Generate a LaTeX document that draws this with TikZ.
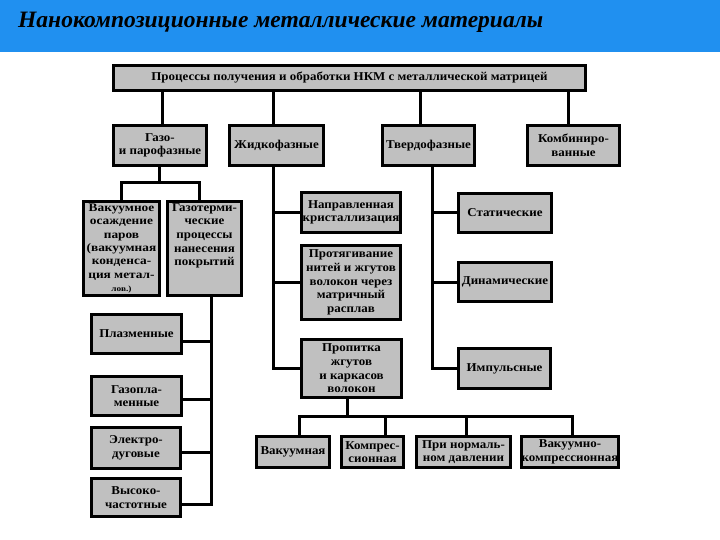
\documentclass[tikz,border=0pt]{standalone}
\usepackage{fontspec}
\setmainfont{Liberation Serif}
\newfontfamily\boxfont[FakeStretch=1.08]{Liberation Serif}
\newfontfamily\wideboxfont[FakeStretch=1.16]{Liberation Serif}
\definecolor{titleblue}{RGB}{32,144,240}
\definecolor{boxgray}{RGB}{192,192,192}
\begin{document}
\begin{tikzpicture}[x=1pt,y=-1pt,
  box/.style={draw=black, line width=3pt, fill=boxgray, align=center, inner sep=0pt,
    font=\boxfont\bfseries\fontsize{12}{13.6}\selectfont},
  conn/.style={line width=3pt, line cap=rect}]
\useasboundingbox (0,0) rectangle (720,540);
\fill[titleblue] (0,0) rectangle (720,52);
\node[anchor=base west, inner sep=0pt, font=\bfseries\itshape\fontsize{23.5}{28}\selectfont] (title) at (18,28) {Нанокомпозиционные металлические материалы};

% boxes
\node[box, minimum width=472, minimum height=25, font=\boxfont\bfseries\fontsize{12}{13}\selectfont] (top) at (349.5,78) {Процессы получения и обработки НКМ с металлической матрицей};
\node[box, minimum width=93, minimum height=40] (gaz) at (160,145.5) {Газо-\\и парофазные};
\node[box, minimum width=94, minimum height=40] (zhid) at (276.5,145.5) {Жидкофазные};
\node[box, minimum width=92, minimum height=40] (tverd) at (428.5,145.5) {Твердофазные};
\node[box, minimum width=92, minimum height=40] (komb) at (573.5,145.5) {Комбиниро-\\ванные};

\node[box, minimum width=76, minimum height=94, font=\wideboxfont\bfseries\fontsize{11.5}{13.4}\selectfont] (vakos) at (121.5,248.5) {Вакуумное\\осаждение\\паров\\(вакуумная\\конденса-\\ция метал-\\{\fontsize{8}{8}\selectfont лов.)}};
\node[box, minimum width=74, minimum height=94, text depth=28pt] (gazoterm) at (204.5,248.5) {Газотерми-\\ческие\\процессы\\нанесения\\покрытий};

\node[box, minimum width=90, minimum height=39] (plazm) at (136.5,334) {Плазменные};
\node[box, minimum width=90, minimum height=39] (gazopl) at (136.5,396) {Газопла-\\менные};
\node[box, minimum width=89, minimum height=41] (elektro) at (136,448) {Электро-\\дуговые};
\node[box, minimum width=89, minimum height=38] (vysoko) at (136,497.5) {Высоко-\\частотные};

\node[box, minimum width=99, minimum height=40] (naprav) at (351,212.5) {Направленная\\кристаллизация};
\node[box, minimum width=99, minimum height=74] (protyag) at (351,282.5) {Протягивание\\нитей и жгутов\\волокон через\\матричный\\расплав};
\node[box, minimum width=100, minimum height=58] (propitka) at (351.5,368.5) {Пропитка\\жгутов\\и каркасов\\волокон};

\node[box, minimum width=93, minimum height=39] (static) at (505,213) {Статические};
\node[box, minimum width=93, minimum height=39] (dinam) at (505,282) {Динамические};
\node[box, minimum width=92, minimum height=40] (impuls) at (504.5,368.5) {Импульсные};

\node[box, minimum width=73, minimum height=31] (vakuumnaya) at (293,452) {Вакуумная};
\node[box, minimum width=62, minimum height=31] (kompr) at (372.5,452) {Компрес-\\сионная};
\node[box, minimum width=94, minimum height=31] (prinorm) at (463.5,452) {При нормаль-\\ном давлении};
\node[box, minimum width=97, minimum height=31] (vakkompr) at (570,452) {Вакуумно-\\компрессионная};

% level 1 connectors
\draw[conn] ([xshift=2pt]gaz.north) -- ([xshift=2pt]gaz.north |- top.south);
\draw[conn] ([xshift=-3.5pt]zhid.north) -- ([xshift=-3.5pt]zhid.north |- top.south);
\draw[conn] ([xshift=-8.5pt]tverd.north) -- ([xshift=-8.5pt]tverd.north |- top.south);
\draw[conn] ([xshift=-5.5pt]komb.north) -- ([xshift=-5.5pt]komb.north |- top.south);

% gas-phase branch
\coordinate (gj) at ([yshift=-16pt,xshift=-1pt]gaz.south);
\draw[conn] ([xshift=-1pt]gaz.south) -- (gj);
\coordinate (gzn) at ([xshift=-5.5pt]gazoterm.north);
\draw[conn] (vakos.north |- gj) -- (gzn |- gj);
\draw[conn] (vakos.north |- gj) -- (vakos.north);
\draw[conn] (gzn |- gj) -- (gzn);
\coordinate (gt) at ([xshift=6.5pt]gazoterm.south);
\coordinate (pl) at ([yshift=-7pt]plazm.east);
\coordinate (gp) at ([yshift=-3pt]gazopl.east);
\coordinate (el) at ([yshift=-4pt]elektro.east);
\coordinate (vy) at ([yshift=-6.5pt]vysoko.east);
\draw[conn] (gt) -- (gt |- vy);
\draw[conn] (pl) -- (pl -| gt);
\draw[conn] (gp) -- (gp -| gt);
\draw[conn] (el) -- (el -| gt);
\draw[conn] (vy) -- (vy -| gt);

% liquid-phase branch
\coordinate (zl) at ([xshift=-3.5pt]zhid.south);
\draw[conn] (zl) -- (zl |- propitka.west) -- (propitka.west);
\draw[conn] (naprav.west -| zl) -- (naprav.west);
\draw[conn] (protyag.west -| zl) -- (protyag.west);

% solid-phase branch
\coordinate (tl) at ([xshift=3.5pt]tverd.south);
\draw[conn] (tl) -- (tl |- impuls.west) -- (impuls.west);
\draw[conn] (static.west -| tl) -- (static.west);
\draw[conn] (dinam.west -| tl) -- (dinam.west);

% impregnation branch
\coordinate (pj) at ([xshift=-4.5pt,yshift=-17pt]propitka.south);
\draw[conn] ([xshift=-4.5pt]propitka.south) -- (pj);
\coordinate (v1) at ([xshift=6pt]vakuumnaya.north);
\coordinate (v2) at ([xshift=12.5pt]kompr.north);
\coordinate (v3) at ([xshift=2.5pt]prinorm.north);
\coordinate (v4) at ([xshift=2pt]vakkompr.north);
\draw[conn] (v1 |- pj) -- (v4 |- pj);
\draw[conn] (v1 |- pj) -- (v1);
\draw[conn] (v2 |- pj) -- (v2);
\draw[conn] (v3 |- pj) -- (v3);
\draw[conn] (v4 |- pj) -- (v4);
\end{tikzpicture}
\end{document}
